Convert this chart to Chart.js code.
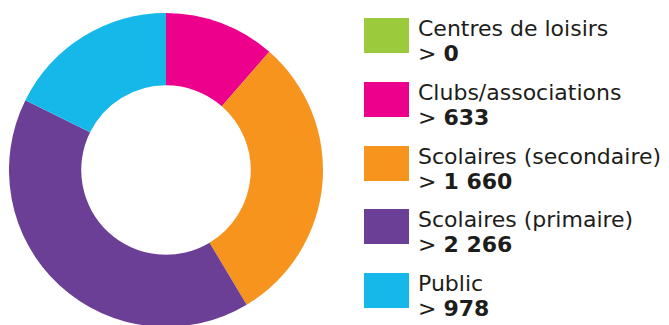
<!DOCTYPE html>
<html>
<head>
<meta charset="utf-8">
<script src="https://cdn.jsdelivr.net/npm/chart.js@4.4.0/dist/chart.umd.min.js"></script>
<style>
  html, body { margin: 0; padding: 0; background: #fff; }
  body { width: 669px; height: 325px; overflow: hidden; position: relative; font-family: "DejaVu Sans", sans-serif; color: #1d1d1b; }
  #chartBox { position: absolute; left: 9px; top: 13px; width: 314px; height: 314px; }
  .item { position: absolute; left: 364px; }
  .swatch { position: absolute; left: 0; top: 0; width: 45px; height: 35px; }
  .txt { position: absolute; left: 54px; top: -2px; font-size: 22px; line-height: 25px; white-space: nowrap; }
  .txt b { font-weight: 700; }
</style>
</head>
<body>
<div id="chartBox"><canvas id="donut"></canvas></div>
<div id="legend"></div>
<script>
const categories = ['Centres de loisirs', 'Clubs/associations', 'Scolaires (secondaire)', 'Scolaires (primaire)', 'Public'];
const values = [0, 633, 1660, 2266, 978];
const valueLabels = ['0', '633', '1 660', '2 266', '978'];
const colors = ['#9bcb3c', '#ec008c', '#f7941e', '#6b3f96', '#16b8ea'];

// legend on the right, one block per category
const legend = document.getElementById('legend');
categories.forEach((name, i) => {
  const item = document.createElement('div');
  item.className = 'item';
  item.style.top = (18 + i * 63.8) + 'px';
  item.innerHTML = '<div class="swatch" style="background:' + colors[i] + '"></div>' +
    '<div class="txt">' + name + '<br>&gt; <b>' + valueLabels[i] + '</b></div>';
  legend.appendChild(item);
});

new Chart(document.getElementById('donut'), {
  type: 'doughnut',
  data: {
    labels: categories,
    datasets: [{
      data: values,
      backgroundColor: colors,
      borderWidth: 0,
    }],
  },
  options: {
    responsive: true,
    maintainAspectRatio: false,
    animation: false,
    cutout: '54%',
    plugins: {
      legend: { display: false },
      tooltip: { enabled: false },
    },
  },
});
</script>
</body>
</html>
